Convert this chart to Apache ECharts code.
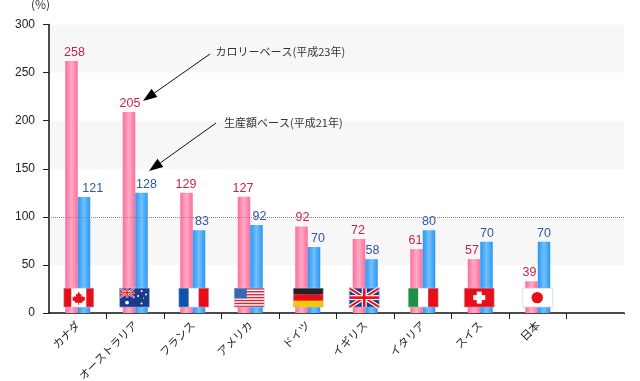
<!DOCTYPE html>
<html><head><meta charset="utf-8">
<style>html,body{margin:0;padding:0;background:#fff}#c{width:640px;height:381px}</style>
<script src="https://cdn.jsdelivr.net/npm/echarts@6/dist/echarts.min.js"></script>
</head><body><div id="c"></div>
<script>
const categories = ['カナダ','オーストラリア','フランス','アメリカ','ドイツ','イギリス','イタリア','スイス','日本',''];
const calorieBars = [262,209,125,121,90,77,66.5,56,33];
const productionBars = [120.6,125,86,91.5,68.6,56,86,74,74];
const calorieLabels = ['258','205','129','127','92','72','61','57','39'];
const productionLabels = ['121','128','83','92','70','58','80','70','70'];
const flags = ['ca','au','fr','us','de','gb','it','ch','jp'];
const flagHeight = 16;
const yTicks = {min:0,max:300,interval:50};

const calorieNudge = [3,1,-.5,-1,1,-1,-1,-2,-2];
const productionNudge = [8.75,5,3,3,4,1,0,.5,0];
const flagNudge = [1,-.7,1,-1,.5,-1,.5,-1,0];
const FONT = '"Liberation Sans",Arial,sans-serif';
const JP = '"Noto Sans CJK JP",sans-serif';
const W = 30, H = 19;
const rect = (x,y,w,h,fill)=>({type:'rect',shape:{x,y,width:w,height:h},style:{fill}});
const poly = (pts,fill)=>({type:'polygon',shape:{points:pts},style:{fill}});
const circ = (cx,cy,r,fill)=>({type:'circle',shape:{cx,cy,r},style:{fill}});
const RED='#e60f19', NAVY='#1a3a8c', WHITE='#fff';
function jack(w,h){
  const o=[rect(0,0,w,h,NAVY)];
  const d=(a,b,c,e,t,f)=>{const dx=c-a,dy=e-b,l=Math.hypot(dx,dy),nx=-dy/l*t,ny=dx/l*t;
    return poly([[a+nx,b+ny],[c+nx,e+ny],[c-nx,e-ny],[a-nx,b-ny]],f);};
  o.push(d(0,0,w,h,h*0.11,WHITE),d(w,0,0,h,h*0.11,WHITE),d(0,0,w,h,h*0.05,RED),d(w,0,0,h,h*0.05,RED));
  o.push(rect(w/2-h*.13,0,h*.26,h,WHITE),rect(0,h/2-h*.13,w,h*.26,WHITE));
  o.push(rect(w/2-h*.07,0,h*.14,h,RED),rect(0,h/2-h*.07,w,h*.14,RED));
  return o;
}
const drawers = {
  ca:()=>[rect(0,0,W,H,WHITE),rect(0,0,7.5,H,RED),rect(22.5,0,7.5,H,RED),
    poly([[15,3.5],[16.5,6.5],[18,5.8],[17.5,9],[19.2,7.8],[20,9.2],[21.5,8.8],[20.8,11],[21.6,11.6],[18.2,14],[18.6,15],[15.4,14.6],[15.4,17],[14.6,17],[14.6,14.6],[11.4,15],[11.8,14],[8.4,11.6],[9.2,11],[8.5,8.8],[10,9.2],[10.8,7.8],[12.5,9],[12,5.8],[13.5,6.5]],RED)],
  au:()=>{const o=[rect(0,0,W,H,NAVY)];
    jack(15,9.5).forEach(c=>o.push(c));
    [[7.5,14.5,1.9],[22,3,1],[22,15.5,1],[18.5,8,1],[26.5,6.5,1],[24,10,.6]].forEach(s=>o.push(circ(s[0],s[1],s[2],WHITE)));
    return o;},
  fr:()=>[rect(0,0,10,H,'#0a55a8'),rect(10,0,10,H,WHITE),rect(20,0,10,H,RED)],
  us:()=>{const o=[rect(0,0,W,H,WHITE)];
    for(let i=0;i<7;i++)o.push(rect(0,i*2*H/13,W,H/13,'#d8263a'));
    o.push(rect(0,0,12.5,H*7/13,'#3468b8'));return o;},
  de:()=>[rect(0,0,W,H/3,'#222'),rect(0,H/3,W,H/3,RED),rect(0,2*H/3,W,H/3,'#f5c800')],
  gb:()=>jack(W,H),
  it:()=>[rect(0,0,10,H,'#1c9148'),rect(10,0,10,H,WHITE),rect(20,0,10,H,RED)],
  ch:()=>[rect(0,0,W,H,RED),rect(12.5,3.5,5,12,WHITE),rect(9,7,12,5,WHITE)],
  jp:()=>[rect(0,0,W,H,WHITE),circ(14.5,9.5,5.7,RED)]
};
function barGrad(edge,mid){
  return {type:'linear',x:0,y:0,x2:1,y2:0,colorStops:[{offset:0,color:edge},{offset:.5,color:mid},{offset:1,color:edge}]};
}
const items=(vals,nudge)=>vals.map((v,i)=>({value:v,label:{offset:[nudge[i],0]}}));
const chart = echarts.init(document.getElementById('c'),null,{renderer:'canvas'});
function labelFor(list){return p=>list[p.dataIndex];}
function arrow(x1,y1,x2,y2){
  const a=Math.atan2(y2-y1,x2-x1),L=14,Wd=5;
  const bx=x2-Math.cos(a)*L,by=y2-Math.sin(a)*L,nx=-Math.sin(a)*Wd,ny=Math.cos(a)*Wd;
  return [
    {type:'line',z:100,shape:{x1,y1,x2:bx,y2:by},style:{stroke:'#111',lineWidth:1},silent:true},
    {type:'polygon',z:100,shape:{points:[[x2,y2],[bx+nx,by+ny],[bx-nx,by-ny]]},style:{fill:'#000'},silent:true}
  ];
}
const note=(text,x,y,size)=>({type:'text',z:100,x,y,silent:true,
  style:{text,font:size+'px '+JP,fill:'#333',verticalAlign:'middle'}});
chart.setOption({
  animation:false,
  backgroundColor:'#fff',
  grid:{left:49,right:16,top:24.5,bottom:68,outerBoundsMode:'none'},
  xAxis:{type:'category',data:categories,boundaryGap:true,
    axisLine:{show:true,onZero:false,lineStyle:{color:'#111',width:1.5}},
    axisTick:{show:true,length:6,inside:false,lineStyle:{color:'#222',width:1},
      interval:(i)=>i>0},
    axisLabel:{interval:0,rotate:45,margin:10,fontSize:11,fontFamily:JP,color:'#222'},
    splitLine:{show:false}},
  yAxis:{type:'value',min:yTicks.min,max:yTicks.max,interval:yTicks.interval,
    axisLine:{show:true,lineStyle:{color:'#111',width:1.5}},
    axisTick:{show:true,length:6,lineStyle:{color:'#222',width:1}},
    axisLabel:{margin:14,fontSize:12,fontFamily:FONT,color:'#222'},
    splitLine:{show:false},
    splitArea:{show:true,areaStyle:{color:['rgba(255,255,255,0)','#f7f7f7']}}},
  series:[
    {type:'bar',name:'カロリーベース',data:items(calorieBars,calorieNudge),barWidth:12.5,barGap:'0%',
      itemStyle:{color:barGrad('#ff6d99','#ffaac6')},
      label:{show:true,position:'top',distance:2,formatter:labelFor(calorieLabels),color:'#cc2050',fontSize:12.5,fontFamily:FONT},
      markLine:{silent:true,symbol:'none',label:{show:false},lineStyle:{color:'#8a8a8a',type:'dotted',width:1},data:[{yAxis:100}]}},
    {type:'bar',name:'生産額ベース',data:items(productionBars,productionNudge),barWidth:12.5,
      itemStyle:{color:barGrad('#2a97f0','#70c0ff')},
      label:{show:true,position:'top',distance:2,formatter:labelFor(productionLabels),color:'#2f55a8',fontSize:12.5,fontFamily:FONT}},
    {type:'custom',z:5,silent:true,data:flags.map((f,i)=>[i,flagHeight]),encode:{x:0,y:1},
      renderItem:(params,api)=>{
        const c=api.coord([api.value(0),api.value(1)]);
        const kids=drawers[flags[params.dataIndex]]();
        kids.push({type:'rect',shape:{x:0,y:0,width:W,height:H},style:{fill:'none',stroke:'rgba(190,195,215,.55)',lineWidth:1}});
        return {type:'group',x:c[0]-W/2+flagNudge[params.dataIndex],y:c[1]-H/2,children:kids};
      }}
  ],
  graphic:[
    note('(%)',31,4,12),
    note('カロリーベース(平成23年)',215.5,52,11),
    note('生産額ベース(平成21年)',224,123,11),
    ...arrow(210,54,143,101),
    ...arrow(216,123,149,171),
    {type:'rect',z:100,silent:true,shape:{x:621,y:314.2,width:6,height:8},style:{fill:'#fff'}}
  ]
});
</script></body></html>
